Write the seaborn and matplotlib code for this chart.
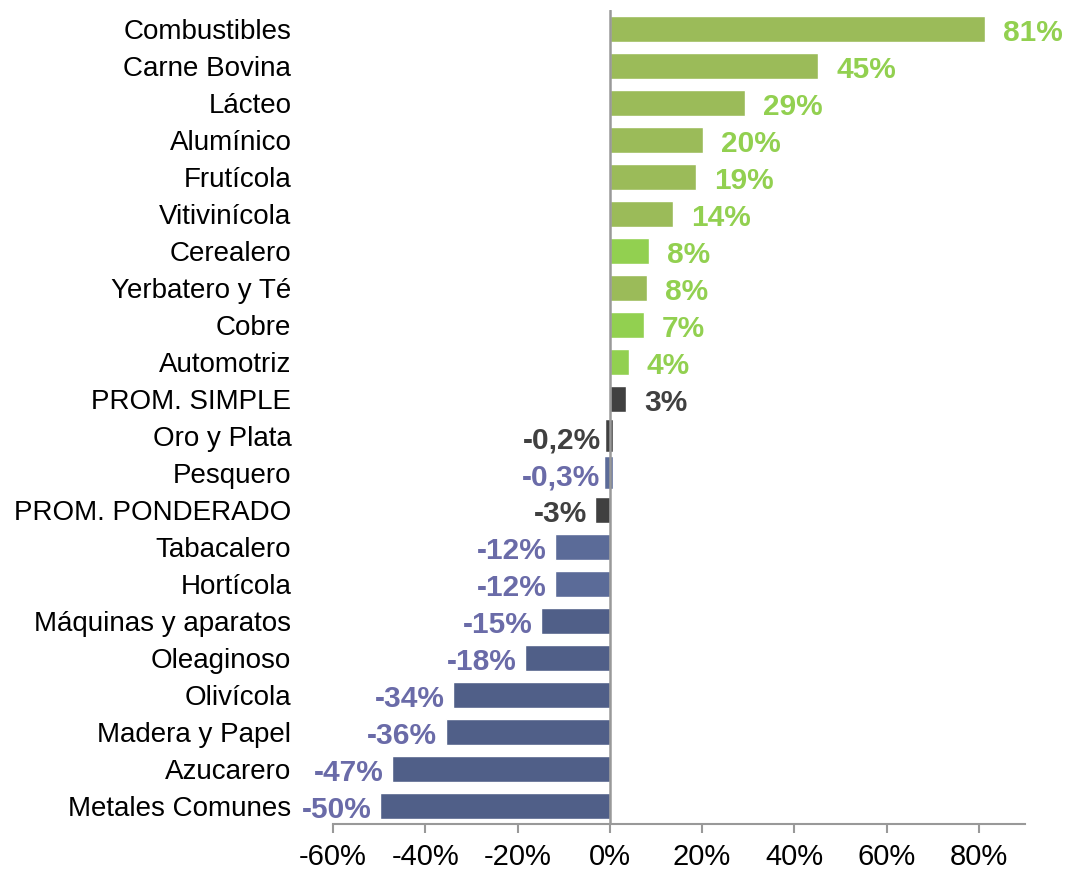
import matplotlib
matplotlib.use("Agg")
import matplotlib.pyplot as plt
import seaborn as sns
import pandas as pd

categories = ["Combustibles", "Carne Bovina", "Lácteo", "Alumínico", "Frutícola",
              "Vitivinícola", "Cerealero", "Yerbatero y Té", "Cobre", "Automotriz",
              "PROM. SIMPLE", "Oro y Plata", "Pesquero", "PROM. PONDERADO",
              "Tabacalero", "Hortícola", "Máquinas y aparatos", "Oleaginoso",
              "Olivícola", "Madera y Papel", "Azucarero", "Metales Comunes"]
values = [81.3, 45.2, 29.3, 20.1, 18.7, 13.7, 8.4, 8.0, 7.4, 4.1,
          3.5, -0.2, -0.3, -3.2, -11.8, -11.8, -14.9, -18.4,
          -34.0, -35.6, -47.3, -49.9]
value_labels = ["81%", "45%", "29%", "20%", "19%", "14%", "8%", "8%", "7%", "4%",
                "3%", "-0,2%", "-0,3%", "-3%", "-12%", "-12%", "-15%", "-18%",
                "-34%", "-36%", "-47%", "-50%"]
groups = ["olive"] * 6 + ["lime", "olive", "lime", "lime"] + ["prom", "prom", "blue_l", "prom",
          "blue_l", "blue_l"] + ["blue"] * 6

bar_colors = {"olive": "#9BBB59", "lime": "#92D050", "prom": "#404040",
              "blue_l": "#5B6B98", "blue": "#505F88"}
label_colors = {"olive": "#92D050", "lime": "#92D050", "prom": "#404040",
                "blue_l": "#6A6BA8", "blue": "#6A6BA8"}

df = pd.DataFrame({"cat": categories, "val": values, "grp": groups})

sns.set_style("white")
plt.rcParams["font.family"] = ["Liberation Sans", "DejaVu Sans"]

fig = plt.figure(figsize=(10.7, 8.74), dpi=100)
ax = fig.add_axes([333 / 1070, 50 / 874, (1025 - 333) / 1070, (824 - 10) / 874])

palette = [bar_colors[g] for g in groups]
sns.barplot(data=df, x="val", y="cat", hue="cat", palette=palette, legend=False,
            width=0.7, orient="h", ax=ax, saturation=1, zorder=2)

# make very thin bars visible beside the zero line, as in the original
for p in ax.patches:
    if abs(p.get_width()) < 1:
        p.set_edgecolor(p.get_facecolor())
        p.set_linewidth(4)

n = len(categories)
ax.set_xlim(-60, 90)
ax.set_ylim(n - 1 + 0.49, -0.51)
ax.set_xlabel("")
ax.set_ylabel("")
ax.set_xticks([-60, -40, -20, 0, 20, 40, 60, 80])
ax.set_xticklabels(["-60%", "-40%", "-20%", "0%", "20%", "40%", "60%", "80%"], fontsize=21,
                   color="black")
ax.tick_params(axis="x", direction="out", length=6.5, width=1.5, color="#999999", pad=7,
               bottom=True)
ax.tick_params(axis="y", length=0, pad=30, labelsize=20)
for lab in ax.get_yticklabels():
    lab.set_color("black")

for s in ["top", "right", "left"]:
    ax.spines[s].set_visible(False)
ax.spines["bottom"].set_color("#999999")
ax.spines["bottom"].set_linewidth(1.5)
ax.axvline(0, color="#999999", linewidth=1.8, zorder=3)

for i, (v, lab, g) in enumerate(zip(values, value_labels, groups)):
    if v >= 0:
        ax.annotate(lab, xy=(v, i), xytext=(13, -3), textcoords="offset points",
                    ha="left", va="center", fontsize=21.5, fontweight="bold",
                    color=label_colors[g])
    else:
        ax.annotate(lab, xy=(v, i), xytext=(-6, -3), textcoords="offset points",
                    ha="right", va="center", fontsize=21.5, fontweight="bold",
                    color=label_colors[g])

fig.savefig("out.png", dpi=100)
